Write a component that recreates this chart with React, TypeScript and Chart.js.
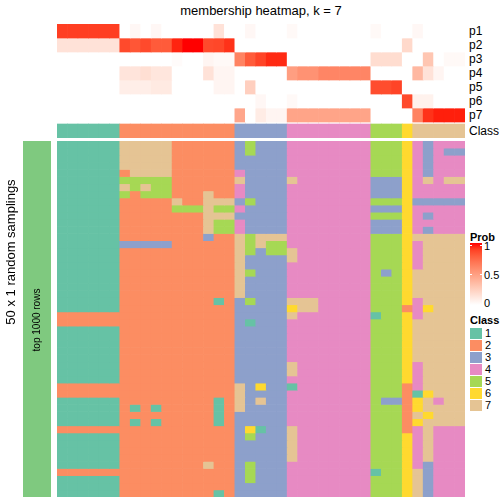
import React, { useEffect, useRef } from "react";
import { Chart, registerables } from "chart.js";

Chart.register(...registerables);

// ---------- data ----------
const COLUMN_IDS: string[] = Array.from({ length: 39 }, (_, i) => `s${i + 1}`);
const PROB_LABELS = ["p1", "p2", "p3", "p4", "p5", "p6", "p7"];
const CLASS_LABELS = ["1", "2", "3", "4", "5", "6", "7"];
const CLASS_COLORS = ["#66C2A5", "#FC8D62", "#8DA0CB", "#E78AC3", "#A6D854", "#FFD92F", "#E5C494"];
const PROB_TICKS = ["1", "0.5", "0"];

const P1 = [.9, .9, .9, .9, .9, .9, 0, .04, 0, .04, 0, 0, 0, 0, 0, .15, 0, 0, .04, 0, 0, 0, .03, 0, 0, 0, 0, 0, 0, 0, .03, 0, 0, 0, .04, 0, 0, 0, 0];
const P2 = [.15, .15, .15, .15, .15, .15, .86, .82, .86, .8, .8, .96, 1, 1, .86, .87, .93, 0, 0, 0, 0, 0, 0, 0, 0, 0, 0, 0, 0, 0, 0, 0, 0, .2, 0, 0, 0, 0, 0];
const P3 = [0, 0, 0, 0, 0, 0, 0, 0, 0, 0, 0, .02, 0, 0, .05, .03, .03, .63, .8, .88, .95, .95, 0, 0, 0, 0, 0, 0, 0, 0, .18, .18, .18, 0, 0, .3, 0, .03, .03];
const P4 = [0, 0, 0, 0, 0, 0, .14, .14, .17, .13, .13, 0, 0, 0, .15, .05, .05, 0, 0, 0, 0, 0, .5, .56, .56, .62, .62, .62, .62, .62, 0, 0, 0, 0, .37, .15, .05, 0, 0];
const P5 = [0, 0, 0, 0, 0, 0, .09, .09, .09, .11, .11, 0, 0, 0, 0, .05, .05, 0, .25, 0, 0, 0, 0, 0, 0, 0, 0, 0, 0, 0, .85, .85, .88, 0, 0, 0, 0, 0, 0];
const P6 = [0, 0, 0, 0, 0, 0, 0, 0, 0, 0, 0, 0, 0, 0, 0, 0, 0, 0, 0, .04, 0, 0, .03, 0, 0, 0, 0, 0, 0, 0, 0, 0, 0, .86, .07, .07, 0, 0, 0];
const P7 = [0, 0, 0, 0, 0, 0, 0, 0, 0, 0, 0, 0, 0, 0, 0, 0, 0, .46, 0, .1, .05, .05, .47, .47, .47, .47, .47, .47, .47, .47, 0, 0, 0, 0, .63, .93, .97, .97, .97];

const CLASS_ROW = "111111 22222222222 33333 44444444 555 6 77777";

const SAMPLING_ROWS = [
  "111111 77777222222 35333 44444444 555 6 43444",
  "111111 77777222222 35333 44444444 555 6 43433",
  "111111 77777222222 33333 44444444 555 6 43444",
  "111111 77777222222 33333 44444444 555 6 43444",
  "111111 27777222222 43333 44444444 555 6 43444",
  "111111 55555222222 73333 74444444 333 6 47477",
  "111111 75755222222 43333 44444444 333 6 44444",
  "111111 52555222722 43333 44444444 333 6 44444",
  "111111 22222722777 35333 44444444 555 6 33333",
  "111111 22222555755 43333 44444444 333 6 44444",
  "111111 22222222777 33333 44444444 555 6 43444",
  "111111 22222222755 43333 44444444 333 6 44444",
  "111111 22222222755 43333 44444444 333 6 43444",
  "111111 22222222322 75777 44444444 555 6 77777",
  "111111 33333222222 75755 44444444 555 6 47777",
  "111111 22222222222 75355 74444444 555 6 47777",
  "111111 22222222222 73333 74444444 555 6 47777",
  "111111 22222222222 73333 44444444 555 6 47777",
  "111111 22222222222 75333 44444444 535 6 77777",
  "111111 22222222222 73333 44444444 555 6 77777",
  "111111 22222222222 73333 44444444 555 6 77777",
  "111111 22222222222 73333 44444444 555 6 77777",
  "111111 22222222212 35333 77744444 555 6 47777",
  "111111 22222222222 33333 67744444 555 2 46777",
  "222222 22222222222 33333 74444444 155 6 47777",
  "222222 22222222222 31333 44444444 555 6 77777",
  "111111 22222222222 33333 44444444 555 6 77777",
  "111111 22222222222 33333 44444444 555 6 77777",
  "111111 22222222222 33333 44444444 555 6 77777",
  "111111 22222222222 33333 44444444 555 6 77777",
  "111111 22222222222 33333 44444444 555 6 77777",
  "111111 22222222222 33333 74444444 555 6 47777",
  "111111 22222222222 33333 74444444 555 6 47777",
  "111111 22222222222 33333 44444444 555 6 47777",
  "222222 22222222222 73633 14444444 555 2 47777",
  "222222 22222222222 73333 44444444 555 2 16777",
  "111111 22222222212 73733 44444444 533 2 67477",
  "111111 21212222212 73333 44444444 555 2 67777",
  "111111 22222222212 33333 44444444 555 2 76777",
  "111111 21212222212 33333 44444444 555 2 67777",
  "222222 22222222222 36133 74444444 555 2 47444",
  "111111 22222222222 35333 74444444 555 6 47444",
  "111111 22222222222 33333 74444444 555 6 47444",
  "111111 22222222222 33333 74444444 555 6 47444",
  "111111 22222222222 33333 74444444 555 6 47444",
  "111111 22222222722 35333 44444444 555 6 43444",
  "222222 22222222222 35333 44444444 155 6 73444",
  "111111 22222222222 35333 44444444 555 6 73444",
  "111111 22222222222 33333 44444444 555 6 73444",
  "111111 22222222212 33333 44444444 555 6 73444",
];

// ---------- colour helpers ----------
function labToHex(L: number, a: number, b: number): string {
  const fy = (L + 16) / 116;
  const fx = fy + a / 500;
  const fz = fy - b / 200;
  const f = (t: number) => (t * t * t > 0.008856 ? t * t * t : (t - 16 / 116) / 7.787);
  const X = 0.95047 * f(fx);
  const Y = 1.0 * f(fy);
  const Z = 1.08883 * f(fz);
  const lin = [
    3.2406 * X - 1.5372 * Y - 0.4986 * Z,
    -0.9689 * X + 1.8758 * Y + 0.0415 * Z,
    0.0557 * X - 0.204 * Y + 1.057 * Z,
  ];
  const out = lin.map((c) => {
    const v = c <= 0.0031308 ? 12.92 * c : 1.055 * Math.pow(Math.max(c, 0), 1 / 2.4) - 0.055;
    const n = Math.round(Math.min(1, Math.max(0, v)) * 255);
    return n.toString(16).padStart(2, "0");
  });
  return "#" + out.join("");
}
function probColor(p: number): string {
  // white -> red in LAB space
  return labToHex(100 - 46.76 * p, 80.09 * p, 67.2 * p);
}
const rowClasses = (s: string) => s.replace(/ /g, "").split("").map((c) => Number(c));

const FONT = '"Liberation Sans", Arial, Helvetica, sans-serif';

function baseOptions(yMax: number): any {
  return {
    animation: false,
    responsive: false,
    maintainAspectRatio: false,
    events: [],
    layout: { padding: 0 },
    plugins: { legend: { display: false }, tooltip: { enabled: false }, title: { display: false } },
    scales: {
      x: { type: "category", display: false, offset: true, stacked: true, grid: { offset: true } },
      y: { type: "linear", display: false, min: 0, max: yMax, reverse: true, stacked: false },
    },
  };
}

function barDataset(data: any[], colors: string[]) {
  return {
    data,
    backgroundColor: colors,
    borderWidth: 0,
    barPercentage: 1,
    categoryPercentage: 1,
    grouped: false,
  };
}

export default function App() {
  const topRef = useRef<HTMLCanvasElement>(null);
  const mainRef = useRef<HTMLCanvasElement>(null);
  const annoRef = useRef<HTMLCanvasElement>(null);

  useEffect(() => {
    const probRows = [P1, P2, P3, P4, P5, P6, P7];
    const CLASS_GAP = 0.14;
    const topDatasets = probRows.map((vals, k) =>
      barDataset(COLUMN_IDS.map(() => [k, k + 1]), vals.map(probColor))
    );
    topDatasets.push(
      barDataset(
        COLUMN_IDS.map(() => [7 + CLASS_GAP, 8 + CLASS_GAP]),
        rowClasses(CLASS_ROW).map((c) => CLASS_COLORS[c - 1])
      )
    );
    const top = new Chart(topRef.current!, {
      type: "bar",
      data: { labels: COLUMN_IDS, datasets: topDatasets as any },
      options: baseOptions(8 + CLASS_GAP),
    });

    const mainDatasets = SAMPLING_ROWS.map((row, r) =>
      barDataset(COLUMN_IDS.map(() => [r, r + 1]), rowClasses(row).map((c) => CLASS_COLORS[c - 1]))
    );
    const main = new Chart(mainRef.current!, {
      type: "bar",
      data: { labels: COLUMN_IDS, datasets: mainDatasets as any },
      options: baseOptions(SAMPLING_ROWS.length),
    });

    const anno = new Chart(annoRef.current!, {
      type: "bar",
      data: {
        labels: ["top 1000 rows"],
        datasets: [barDataset([[0, SAMPLING_ROWS.length]], ["#7FC97F"])] as any,
      },
      options: baseOptions(SAMPLING_ROWS.length),
    });

    return () => {
      top.destroy();
      main.destroy();
      anno.destroy();
    };
  }, []);

  const abs = (s: React.CSSProperties): React.CSSProperties => ({ position: "absolute", ...s });
  const gradStops = Array.from({ length: 11 }, (_, i) => `${probColor(1 - i / 10)} ${i * 10}%`).join(", ");

  return (
    <div style={abs({ left: 0, top: 0, width: 504, height: 504, background: "#fff", fontFamily: FONT, color: "#000", overflow: "hidden" })}>
      <div style={abs({ left: 57, top: 4, width: 408, textAlign: "center", fontSize: 13, lineHeight: "14px", whiteSpace: "nowrap" })}>
        membership heatmap, k = 7
      </div>

      <canvas ref={topRef} width={408} height={114} style={abs({ left: 57, top: 24, width: 408, height: 114 })} />
      <canvas ref={mainRef} width={408} height={356} style={abs({ left: 57, top: 141, width: 408, height: 356 })} />
      <canvas ref={annoRef} width={28} height={356} style={abs({ left: 23, top: 141, width: 28, height: 356 })} />

      {PROB_LABELS.map((l, k) => (
        <div key={l} style={abs({ left: 469, top: 24 + 14 * k, height: 14, lineHeight: "14px", fontSize: 12 })}>{l}</div>
      ))}
      <div style={abs({ left: 469, top: 124, height: 14, lineHeight: "14px", fontSize: 12 })}>Class</div>

      <div style={abs({ left: 37, top: 320, transform: "translate(-50%, -50%) rotate(-90deg)", fontSize: 10, whiteSpace: "nowrap", lineHeight: "10px" })}>
        top 1000 rows
      </div>
      <div style={abs({ left: 10, top: 252, transform: "translate(-50%, -50%) rotate(-90deg)", fontSize: 13, whiteSpace: "nowrap", lineHeight: "13px" })}>
        50 x 1 random samplings
      </div>

      {/* Prob legend */}
      <div style={abs({ left: 470, top: 231, fontSize: 11, fontWeight: "bold", lineHeight: "12px" })}>Prob</div>
      <div style={abs({ left: 470, top: 243, width: 12, height: 62, background: `linear-gradient(to bottom, ${gradStops})` })} />
      <div style={abs({ left: 470, top: 245, width: 2, height: 1, background: "#fff" })} />
      <div style={abs({ left: 480, top: 245, width: 2, height: 1, background: "#fff" })} />
      <div style={abs({ left: 470, top: 274, width: 2, height: 1, background: "#fff" })} />
      <div style={abs({ left: 480, top: 274, width: 2, height: 1, background: "#fff" })} />
      {PROB_TICKS.map((t, i) => (
        <div key={t} style={abs({ left: 484, top: 240 + 28.5 * i, fontSize: 11, lineHeight: "12px" })}>{t}</div>
      ))}

      {/* Class legend */}
      <div style={abs({ left: 470, top: 314, fontSize: 11, fontWeight: "bold", lineHeight: "12px" })}>Class</div>
      {CLASS_LABELS.map((l, i) => (
        <React.Fragment key={l}>
          <div style={abs({ left: 470, top: 328 + 12 * i, width: 12, height: 11, background: CLASS_COLORS[i] })} />
          <div style={abs({ left: 485, top: 327 + 12 * i, fontSize: 11, lineHeight: "12px" })}>{l}</div>
        </React.Fragment>
      ))}
    </div>
  );
}
